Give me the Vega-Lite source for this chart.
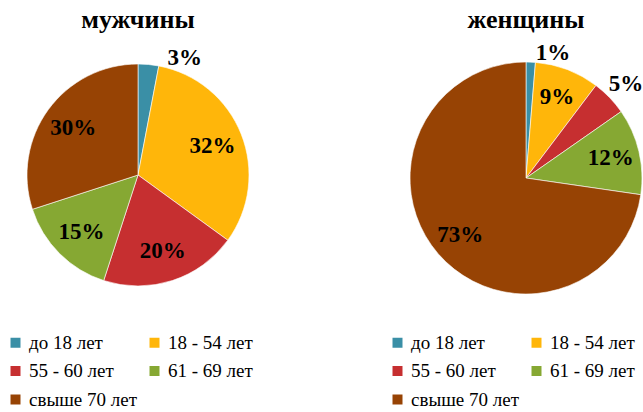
{
  "$schema": "https://vega.github.io/schema/vega-lite/v6.json",
  "background": "white",
  "padding": {"top": 7, "left": 0, "right": 0, "bottom": 0},
  "bounds": "flush",
  "spacing": 116,
  "datasets": {
    "pie": [
      {"group": "мужчины", "cat": "до 18 лет", "idx": 1, "value": 0.03},
      {"group": "мужчины", "cat": "18 - 54 лет", "idx": 2, "value": 0.32},
      {"group": "мужчины", "cat": "55 - 60 лет", "idx": 3, "value": 0.20},
      {"group": "мужчины", "cat": "61 - 69 лет", "idx": 4, "value": 0.15},
      {"group": "мужчины", "cat": "свыше 70 лет", "idx": 5, "value": 0.30},
      {"group": "женщины", "cat": "до 18 лет", "idx": 1, "value": 0.013},
      {"group": "женщины", "cat": "18 - 54 лет", "idx": 2, "value": 0.09},
      {"group": "женщины", "cat": "55 - 60 лет", "idx": 3, "value": 0.05},
      {"group": "женщины", "cat": "61 - 69 лет", "idx": 4, "value": 0.12},
      {"group": "женщины", "cat": "свыше 70 лет", "idx": 5, "value": 0.727}
    ]
  },
  "config": {
    "view": {"stroke": null},
    "title": {"font": "Liberation Serif", "fontSize": 26, "fontWeight": "bold", "color": "black", "anchor": "middle", "frame": "group"},
    "legend": {"padding": 0, "labelFont": "Liberation Serif", "labelFontSize": 19, "labelColor": "black", "symbolType": "square", "symbolSize": 100, "symbolStrokeWidth": 0, "labelOffset": 4, "rowPadding": 8.5, "columnPadding": 8, "columns": 2, "direction": "horizontal", "title": null, "labelLimit": 300}
  },
  "resolve": {"legend": {"color": "independent"}},
  "hconcat": [
    {
      "title": {"text": "мужчины", "offset": 4},
      "width": 276,
      "height": 276,
      "data": {"name": "pie"},
      "transform": [{"filter": "datum.group === 'мужчины'"}],
      "encoding": {
        "theta": {"field": "value", "type": "quantitative", "stack": true},
        "order": {"field": "idx", "type": "quantitative"}
      },
      "layer": [
        {
          "mark": {"type": "arc", "radius": 111, "stroke": "white", "strokeWidth": 0.6},
          "encoding": {
            "color": {"field": "cat", "type": "nominal",
              "scale": {"domain": ["до 18 лет", "18 - 54 лет", "55 - 60 лет", "61 - 69 лет", "свыше 70 лет"], "range": ["#3A8FA6", "#FFB60A", "#C62F30", "#86A833", "#974304"]},
              "legend": {"orient": "none", "legendX": 6, "legendY": 296, "direction": "horizontal", "columns": 2, "labelFont": "Liberation Serif"}}
          }
        },
        {
          "mark": {"type": "text", "radius": 80, "font": "Liberation Serif", "fontSize": 23, "fontWeight": "bold", "color": "black"},
          "encoding": {
            "text": {"field": "value", "type": "quantitative", "format": ".0%"},
            "opacity": {"condition": {"test": "datum.value >= 0.09", "value": 1}, "value": 0}
          }
        },
        {
          "mark": {"type": "text", "radius": 125, "dx": 35, "dy": 7, "font": "Liberation Serif", "fontSize": 23, "fontWeight": "bold", "color": "black"},
          "encoding": {
            "text": {"field": "value", "type": "quantitative", "format": ".0%"},
            "opacity": {"condition": {"test": "datum.value < 0.04", "value": 1}, "value": 0}
          }
        }
      ]
    },
    {
      "title": {"text": "женщины", "offset": -2},
      "width": 268,
      "height": 282,
      "data": {"name": "pie"},
      "transform": [{"filter": "datum.group === 'женщины'"}],
      "encoding": {
        "theta": {"field": "value", "type": "quantitative", "stack": true},
        "order": {"field": "idx", "type": "quantitative"}
      },
      "layer": [
        {
          "mark": {"type": "arc", "radius": 116, "stroke": "white", "strokeWidth": 0.6},
          "encoding": {
            "color": {"field": "cat", "type": "nominal",
              "scale": {"domain": ["до 18 лет", "18 - 54 лет", "55 - 60 лет", "61 - 69 лет", "свыше 70 лет"], "range": ["#3A8FA6", "#FFB60A", "#C62F30", "#86A833", "#974304"]},
              "legend": {"orient": "none", "legendX": -4, "legendY": 296, "direction": "horizontal", "columns": 2, "labelFont": "Liberation Serif"}}
          }
        },
        {
          "mark": {"type": "text", "radius": 87, "font": "Liberation Serif", "fontSize": 23, "fontWeight": "bold", "color": "black"},
          "encoding": {
            "text": {"field": "value", "type": "quantitative", "format": ".0%"},
            "opacity": {"condition": {"test": "datum.value >= 0.09", "value": 1}, "value": 0}
          }
        },
        {
          "mark": {"type": "text", "radius": 125, "dx": 22, "dy": 0, "font": "Liberation Serif", "fontSize": 23, "fontWeight": "bold", "color": "black"},
          "encoding": {
            "text": {"field": "value", "type": "quantitative", "format": ".0%"},
            "opacity": {"condition": {"test": "datum.value < 0.04", "value": 1}, "value": 0}
          }
        },
        {
          "mark": {"type": "text", "radius": 136, "dx": 2, "font": "Liberation Serif", "fontSize": 23, "fontWeight": "bold", "color": "black"},
          "encoding": {
            "text": {"field": "value", "type": "quantitative", "format": ".0%"},
            "opacity": {"condition": {"test": "datum.value >= 0.04 && datum.value < 0.09", "value": 1}, "value": 0}
          }
        }
      ]
    }
  ]
}
